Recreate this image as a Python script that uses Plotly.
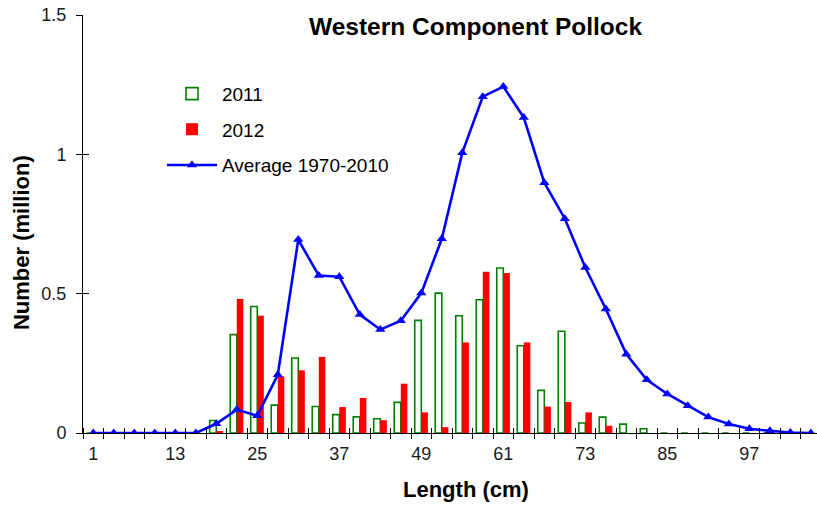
import plotly.graph_objects as go

lengths = list(range(1, 107, 3))  # 1,4,...,106 (36 classes)
tick_labels = ["1", "13", "25", "37", "49", "61", "73", "85", "97"]

y2011 = [0, 0, 0, 0, 0, 0,
         0.045, 0.353, 0.454, 0.100, 0.269, 0.095, 0.066, 0.058, 0.051, 0.110,
         0.404, 0.502, 0.421, 0.478, 0.592, 0.313, 0.153, 0.365, 0.036, 0.057,
         0.032, 0.015,
         0, 0, 0, 0, 0, 0, 0, 0]
y2012 = [0, 0, 0, 0, 0, 0,
         0.006, 0.481, 0.421, 0.203, 0.225, 0.273, 0.093, 0.126, 0.046, 0.177,
         0.074, 0.021, 0.325, 0.579, 0.574, 0.325, 0.095, 0.111, 0.074, 0.026,
         0, 0,
         0, 0, 0, 0, 0, 0, 0, 0]
avg = [0, 0, 0, 0, 0, 0,
       0.033, 0.084, 0.062, 0.209, 0.694, 0.565, 0.561, 0.425, 0.371, 0.403,
       0.502, 0.697, 1.006, 1.207, 1.243, 1.132, 0.898, 0.769, 0.594, 0.445,
       0.283, 0.191, 0.140, 0.098, 0.057, 0.032, 0.015, 0.008, 0.002, 0.0]

idx = list(range(len(lengths)))
label_pos = [lengths.index(int(t)) for t in tick_labels]
bounds = [i + 0.5 for i in range(-1, len(lengths))]

FONT = "Arial, Liberation Sans, sans-serif"

fig = go.Figure()
fig.add_trace(go.Bar(x=idx, y=y2011, name="2011",
                     marker=dict(color="white", line=dict(color="#008000", width=1.6)),
                     legendgroup="a"))
fig.add_trace(go.Bar(x=idx, y=y2012, name="2012",
                     marker=dict(color="#FF0000", line=dict(width=0)),
                     legendgroup="b"))
fig.add_trace(go.Scatter(x=idx, y=avg, name="Average 1970-2010", mode="lines+markers",
                         line=dict(color="#0000FF", width=2.6),
                         marker=dict(symbol="triangle-up", size=9, color="#0000FF"),
                         legendgroup="c"))
# dummy trace to activate overlay axes (for crossing tick marks)
fig.add_trace(go.Scatter(x=[None], y=[None], xaxis="x2", yaxis="y2",
                         showlegend=False, hoverinfo="skip"))

xr = [-0.5, 35.3]
yr = [0, 1.5]

W, H = 817, 508

fig.update_layout(
    width=W, height=H,
    margin=dict(l=83, r=0, t=15, b=75, autoexpand=False),
    paper_bgcolor="white", plot_bgcolor="white",
    font=dict(family=FONT, size=18, color="#1a1a1a"),
    barmode="group", bargap=0.36, bargroupgap=0,
    title=dict(text="<b>Western Component Pollock</b>", x=475.5 / W, xref="container",
               xanchor="center", y=1 - 26 / H, yref="container", yanchor="middle",
               font=dict(family=FONT, size=24.5, color="black")),
    legend=dict(x=0.1076, y=0.857, xanchor="left", yanchor="top",
                bgcolor="rgba(0,0,0,0)", font=dict(family=FONT, size=19, color="black"),
                itemwidth=50, tracegroupgap=8, traceorder="grouped"),
    xaxis=dict(range=xr, tickmode="array", tickvals=label_pos, ticktext=tick_labels,
               ticks="", showgrid=False, zeroline=False, automargin=False,
               ticklabelstandoff=4, ticklabeloverflow="allow",
               showline=True, linecolor="black", linewidth=1, layer="above traces",
               minor=dict(tickmode="array", tickvals=bounds, ticks="inside",
                          ticklen=5, tickcolor="black", showgrid=False)),
    xaxis2=dict(range=xr, overlaying="x", tickmode="array", tickvals=bounds,
                ticks="outside", ticklen=5, tickcolor="black", showticklabels=False,
                showgrid=False, zeroline=False, showline=False, automargin=False),
    yaxis=dict(range=yr, tickmode="array", tickvals=[0, 0.5, 1, 1.5],
               ticktext=["0", "0.5", "1", "1.5"], ticks="outside", ticklen=6,
               tickcolor="black", showgrid=False, zeroline=False, automargin=False,
               ticklabelstandoff=6, ticklabeloverflow="allow",
               showline=True, linecolor="black", linewidth=1),
    yaxis2=dict(range=yr, overlaying="y", tickmode="array", tickvals=[0, 0.5, 1, 1.5],
                ticks="inside", ticklen=6, tickcolor="black", showticklabels=False,
                showgrid=False, zeroline=False, showline=False, automargin=False),
    annotations=[
        dict(text="<b>Length (cm)</b>", xref="paper", yref="paper",
             x=0.522, y=-0.136, xanchor="center", yanchor="middle", showarrow=False,
             font=dict(family=FONT, size=22, color="black")),
        dict(text="<b>Number (million)</b>", xref="paper", yref="paper",
             x=-0.0844, y=0.4545, xanchor="center", yanchor="middle", showarrow=False,
             textangle=-90, font=dict(family=FONT, size=22, color="black")),
    ],
)

fig.write_html("out.html",
               config={"displayModeBar": False},
               post_script="document.body.style.margin='0';document.body.style.overflow='hidden';")
